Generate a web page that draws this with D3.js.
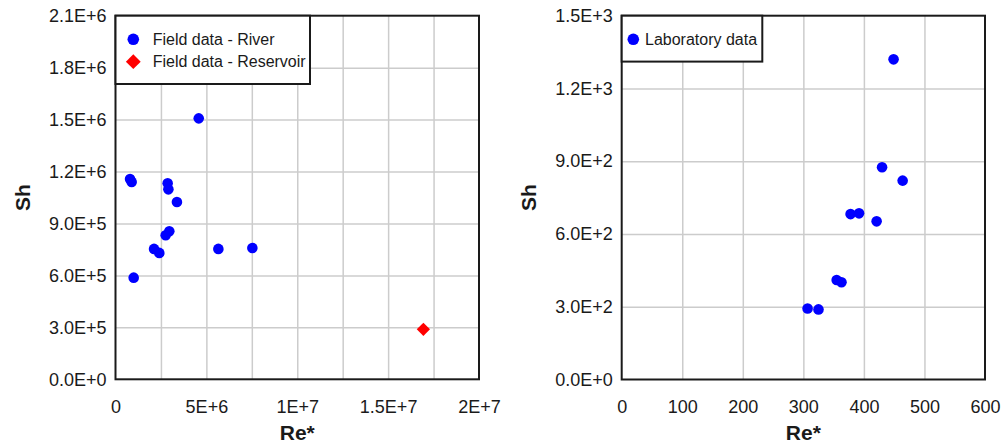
<!DOCTYPE html>
<html>
<head>
<meta charset="utf-8">
<script src="https://cdn.jsdelivr.net/npm/d3@7"></script>
<style>
  body { margin: 0; background: #fff; }
  svg { display: block; font-family: "Liberation Sans", Arial, sans-serif; }
  .tick text { font-size: 18px; fill: #1a1a1a; }
  .grid line { stroke: #cccccc; stroke-width: 1.5; }
  .grid path { display: none; }
  .frame { fill: none; stroke: #1a1a1a; stroke-width: 2; }
  .title { font-size: 21px; font-weight: bold; fill: #1a1a1a; }
  .legend text { font-size: 16px; fill: #1a1a1a; }
</style>
</head>
<body>
<script>

// field data - river (Re*, Sh)
var riverRe = [0.80e6, 0.89e6, 2.87e6, 2.91e6, 3.38e6, 2.96e6, 2.76e6, 2.12e6, 2.41e6, 5.66e6, 7.53e6, 1.00e6, 4.58e6];
var riverSh = [1.157e6, 1.140e6, 1.132e6, 1.097e6, 1.024e6, 0.855e6, 0.832e6, 0.753e6, 0.730e6, 0.753e6, 0.758e6, 0.587e6, 1.507e6];

// field data - reservoir
var reservoirRe = [16.94e6];
var reservoirSh = [0.289e6];

// laboratory data
var labRe = [307, 325, 355, 363, 378, 392, 421, 430, 464, 449];
var labSh = [293, 289, 410, 401, 682, 685, 652, 875, 820, 1320];

// axis ticks
var leftXTicks = [0, 5e6, 1e7, 1.5e7, 2e7];
var leftXLabels = ["0", "5E+6", "1E+7", "1.5E+7", "2E+7"];
var leftXGrid = [2.5e6, 5e6, 7.5e6, 1e7, 1.25e7, 1.5e7, 1.75e7];
var leftYTicks = [0, 3e5, 6e5, 9e5, 1.2e6, 1.5e6, 1.8e6, 2.1e6];
var leftYLabels = ["0.0E+0", "3.0E+5", "6.0E+5", "9.0E+5", "1.2E+6", "1.5E+6", "1.8E+6", "2.1E+6"];

var rightXTicks = [0, 100, 200, 300, 400, 500, 600];
var rightXLabels = ["0", "100", "200", "300", "400", "500", "600"];
var rightYTicks = [0, 300, 600, 900, 1200, 1500];
var rightYLabels = ["0.0E+0", "3.0E+2", "6.0E+2", "9.0E+2", "1.2E+3", "1.5E+3"];

var svg = d3.select("body").append("svg")
    .attr("width", 1002)
    .attr("height", 448);

function panel(opt) {
    var x = d3.scaleLinear().domain(opt.xDomain).range(opt.xRange);
    var y = d3.scaleLinear().domain(opt.yDomain).range(opt.yRange);
    var g = svg.append("g");
    var h = opt.yRange[0] - opt.yRange[1];
    var w = opt.xRange[1] - opt.xRange[0];

    // grid
    g.append("g").attr("class", "grid")
        .attr("transform", `translate(0,${opt.yRange[0]})`)
        .call(d3.axisBottom(x).tickValues(opt.xGrid).tickSize(-h).tickFormat(""));
    g.append("g").attr("class", "grid")
        .attr("transform", `translate(${opt.xRange[0]},0)`)
        .call(d3.axisLeft(y).tickValues(opt.yTicks.slice(1, -1)).tickSize(-w).tickFormat(""));

    // tick labels
    var xa = g.append("g")
        .attr("transform", `translate(0,${opt.yRange[0]})`)
        .call(d3.axisBottom(x).tickValues(opt.xTicks).tickSize(0).tickPadding(21)
            .tickFormat((d, i) => opt.xLabels[i]));
    xa.select(".domain").remove();
    var ya = g.append("g")
        .attr("transform", `translate(${opt.xRange[0]},0)`)
        .call(d3.axisLeft(y).tickValues(opt.yTicks).tickSize(0).tickPadding(9)
            .tickFormat((d, i) => opt.yLabels[i]));
    ya.select(".domain").remove();
    g.selectAll(".tick text").attr("font-family", null).attr("font-size", null).attr("fill", null);

    // points
    opt.series.forEach(function(s) {
        var pts = s.xs.map((v, i) => [v, s.ys[i]]);
        if (s.shape === "circle") {
            g.selectAll(null).data(pts).enter().append("circle")
                .attr("cx", d => x(d[0])).attr("cy", d => y(d[1]))
                .attr("r", 5.3).attr("fill", s.color);
        } else {
            g.selectAll(null).data(pts).enter().append("path")
                .attr("d", d3.symbol(d3.symbolSquare, 88)())
                .attr("transform", d => `translate(${x(d[0])},${y(d[1])}) rotate(45)`)
                .attr("fill", s.color);
        }
    });

    // frame
    g.append("rect").attr("class", "frame")
        .attr("x", opt.xRange[0]).attr("y", opt.yRange[1])
        .attr("width", w).attr("height", h);

    // legend
    var lg = g.append("g").attr("class", "legend");
    lg.append("rect")
        .attr("x", opt.xRange[0]).attr("y", opt.yRange[1])
        .attr("width", opt.legendW).attr("height", 22.4 * opt.series.length + 23.5)
        .attr("fill", "#fff").attr("stroke", "#1a1a1a").attr("stroke-width", 2);
    opt.series.forEach(function(s, i) {
        var cy = opt.yRange[1] + 23.6 + i * 22.4;
        var cx = opt.xRange[0] + opt.legendMark;
        if (s.shape === "circle") {
            lg.append("circle").attr("cx", cx).attr("cy", cy).attr("r", 5.8).attr("fill", s.color);
        } else {
            lg.append("path").attr("d", d3.symbol(d3.symbolSquare, 110)())
                .attr("transform", `translate(${cx},${cy}) rotate(45)`).attr("fill", s.color);
        }
        lg.append("text").attr("x", opt.xRange[0] + opt.legendText).attr("y", cy)
            .attr("dy", "0.36em").text(s.name);
    });

    // axis titles
    g.append("text").attr("class", "title")
        .attr("x", (opt.xRange[0] + opt.xRange[1]) / 2).attr("y", 440)
        .attr("text-anchor", "middle").text("Re*");
    g.append("text").attr("class", "title")
        .attr("transform", `translate(${opt.yTitleX},${(opt.yRange[0] + opt.yRange[1]) / 2}) rotate(-90)`)
        .attr("text-anchor", "middle").attr("dy", "0.36em").text("Sh");
}

panel({
    xDomain: [0, 2e7], xRange: [115.5, 479],
    yDomain: [0, 2.1e6], yRange: [379.3, 15.7],
    xTicks: leftXTicks, xLabels: leftXLabels, xGrid: leftXGrid,
    yTicks: leftYTicks, yLabels: leftYLabels,
    legendW: 194.5, legendMark: 17.8, legendText: 37.2, yTitleX: 22,
    series: [
        {name: "Field data - River", xs: riverRe, ys: riverSh, color: "#0000ff", shape: "circle"},
        {name: "Field data - Reservoir", xs: reservoirRe, ys: reservoirSh, color: "#ff0000", shape: "diamond"}
    ]
});

panel({
    xDomain: [0, 600], xRange: [621.7, 985],
    yDomain: [0, 1500], yRange: [379.5, 15.7],
    xTicks: rightXTicks, xLabels: rightXLabels, xGrid: rightXTicks.slice(1, -1),
    yTicks: rightYTicks, yLabels: rightYLabels,
    legendW: 140.6, legendMark: 11.6, legendText: 23.3, yTitleX: 528,
    series: [
        {name: "Laboratory data", xs: labRe, ys: labSh, color: "#0000ff", shape: "circle"}
    ]
});

</script>
</body>
</html>
